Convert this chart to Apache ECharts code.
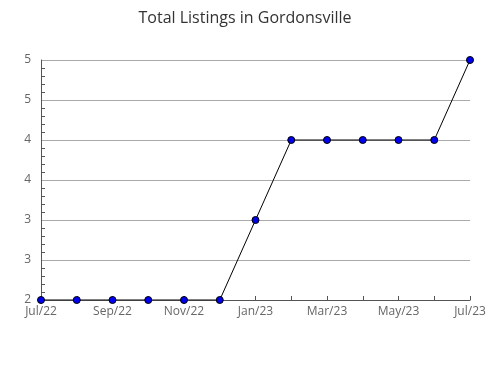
<!DOCTYPE html>
<html><head><meta charset="utf-8">
<script src="https://cdn.jsdelivr.net/npm/echarts@6/dist/echarts.min.js"></script>
<style>html,body{margin:0;padding:0;background:#fff}#c{width:490px;height:380px}</style>
</head><body><div id="c"></div>
<script>
var months = ["Jul/22","Aug/22","Sep/22","Oct/22","Nov/22","Dec/22","Jan/23","Feb/23","Mar/23","Apr/23","May/23","Jun/23","Jul/23"];
var listings = [2,2,2,2,2,2,3,4,4,4,4,4,5];
var chart = echarts.init(document.getElementById('c'));
chart.setOption({
  animation:false,
  title:{text:"Total Listings in Gordonsville",left:'center',top:5,
    textStyle:{fontFamily:"Open Sans",fontWeight:'normal',fontSize:16,color:'#333'}},
  grid:{left:41,right:20,top:60,bottom:80,containLabel:false},
  xAxis:{type:'category',data:months,boundaryGap:false,
    axisLine:{lineStyle:{color:'#555',width:1}},
    axisTick:{show:true,inside:true,interval:0,length:4,lineStyle:{color:'#555'}},
    axisLabel:{interval:1,color:'#666',fontFamily:"Open Sans",fontSize:12,margin:6},
    splitLine:{show:false}},
  yAxis:{type:'value',min:2,max:5,interval:0.5,
    axisLine:{show:true,lineStyle:{color:'#555',width:1}},
    axisTick:{show:false,inside:true},
    minorTick:{show:true,splitNumber:5,length:4,lineStyle:{color:'#555'}},
    axisLabel:{color:'#666',fontFamily:"Open Sans",fontSize:12,margin:10,
      formatter:function(v){return String(Math.round(v));}},
    splitLine:{show:true,lineStyle:{color:'#aaa',width:1}}},
  series:[{type:'line',data:listings,symbol:'circle',symbolSize:7,
    lineStyle:{color:'#000',width:1},
    itemStyle:{color:'#0000ee',borderColor:'#000',borderWidth:1}}]
});
</script></body></html>
